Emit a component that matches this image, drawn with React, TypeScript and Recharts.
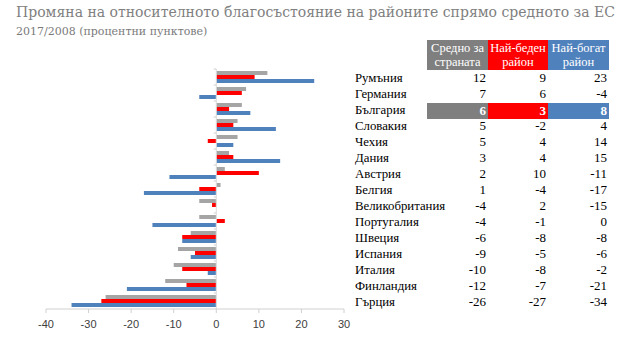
import React from "react";
import { BarChart, Bar, XAxis, YAxis, ReferenceLine } from "recharts";

const titleText = "Промяна на относителното благосъстояние на районите спрямо средното за ЕС";
const subtitleText = "2017/2008 (процентни пунктове)";

const tableCountries = ["Румъния", "Германия", "България", "Словакия", "Чехия", "Дания", "Австрия", "Белгия", "Великобритания", "Португалия", "Швеция", "Испания", "Италия", "Финландия", "Гърция"];
const countryAverage = [12, 7, 6, 5, 5, 3, 2, 1, -4, -4, -6, -9, -10, -12, -26];
const poorestRegion = [9, 6, 3, -2, 4, 4, 10, -4, 2, -1, -8, -5, -8, -7, -27];
const richestRegion = [23, -4, 8, 4, 14, 15, -11, -17, -15, 0, -8, -6, -2, -21, -34];

// order of the bar groups in the chart (top to bottom)
const barOrder = ["Румъния", "Германия", "България", "Чехия", "Словакия", "Дания", "Австрия", "Белгия", "Португалия", "Великобритания", "Швеция", "Испания", "Италия", "Финландия", "Гърция"];

const headerLabels = [["Средно за", "страната"], ["Най-беден", "район"], ["Най-богат", "район"]];
const highlightCountry = "България";
const xTicks = [-40, -30, -20, -10, 0, 10, 20, 30];

const GRAY_BAR = "#a5a5a5";
const GRAY_HEAD = "#7f7f7f";
const RED = "#ff0000";
const BLUE = "#4f81bd";

const chartData = barOrder.map((name) => {
  const i = tableCountries.indexOf(name);
  return { name, avg: countryAverage[i], poor: poorestRegion[i], rich: richestRegion[i] };
});

const titleFont = "'DejaVu Serif', serif";
const tableFont = "'Liberation Serif', serif";

const colLeft = [427, 488, 548];
const colWidth = [61, 60, 61];
const colColors = [GRAY_HEAD, RED, BLUE];
const rowTop = 69.5;
const rowH = 16;

export default function App() {
  const tableValues = [countryAverage, poorestRegion, richestRegion];
  return (
    <div style={{ position: "fixed", left: 0, top: 0, width: 630, height: 343, background: "#fff", overflow: "hidden" }}>
      <div style={{ position: "absolute", left: 16, top: 4, fontFamily: titleFont, fontSize: 14, color: "#808080", whiteSpace: "nowrap" }}>{titleText}</div>
      <div style={{ position: "absolute", left: 16, top: 25, fontFamily: titleFont, fontSize: 11, color: "#7a7a7a", whiteSpace: "nowrap" }}>{subtitleText}</div>

      <div style={{ position: "absolute", left: 0, top: 0 }}>
        <BarChart
          width={630}
          height={343}
          data={chartData}
          layout="vertical"
          margin={{ top: 69, right: 286, bottom: 4, left: 46 }}
          barCategoryGap={2}
          barGap={0}
        >
          <XAxis
            type="number"
            domain={[-40, 30]}
            ticks={xTicks}
            interval={0}
            height={30}
            stroke="#d0d0d0"
            tickSize={4}
            tickMargin={7}
            tick={{ fill: "#404040", fontSize: 11, fontFamily: "'Liberation Sans', Arial, sans-serif" }}
          />
          <YAxis type="category" dataKey="name" hide />
          <ReferenceLine x={0} stroke="#dcdcdc" strokeWidth={1} />
          {barOrder.map((n) => (
            <ReferenceLine
              key={n}
              position="start"
              segment={[{ x: -0.6, y: n }, { x: 0, y: n }]}
              stroke="#cfcfcf"
              strokeWidth={1}
            />
          ))}
          <Bar dataKey="avg" fill={GRAY_BAR} barSize={4} isAnimationActive={false} />
          <Bar dataKey="poor" fill={RED} barSize={4} isAnimationActive={false} />
          <Bar dataKey="rich" fill={BLUE} barSize={4} isAnimationActive={false} />
        </BarChart>
      </div>

      {/* table header */}
      {headerLabels.map((lines, c) => (
        <div
          key={c}
          style={{
            position: "absolute",
            left: colLeft[c],
            top: 40,
            width: colWidth[c],
            height: 30,
            background: colColors[c],
            color: "#fff",
            fontFamily: tableFont,
            fontSize: 12.5,
            lineHeight: "13.5px",
            textAlign: "center",
            paddingTop: 2,
            boxSizing: "border-box",
            whiteSpace: "nowrap",
          }}
        >
          <div>{lines[0]}</div>
          <div>{lines[1]}</div>
        </div>
      ))}

      {/* table rows */}
      {tableCountries.map((name, r) => {
        const hl = name === highlightCountry;
        return (
          <React.Fragment key={name}>
            <div style={{ position: "absolute", left: 355, top: rowTop + r * rowH, height: rowH, lineHeight: rowH + "px", fontFamily: tableFont, fontSize: 12.8, color: "#000", whiteSpace: "nowrap" }}>{name}</div>
            {tableValues.map((vals, c) => (
              <div
                key={c}
                style={{
                  position: "absolute",
                  left: colLeft[c],
                  top: rowTop + r * rowH + (hl ? 1 : 0),
                  width: colWidth[c],
                  height: rowH,
                  lineHeight: rowH + "px",
                  background: hl ? colColors[c] : "transparent",
                  color: hl ? "#fff" : "#000",
                  fontWeight: hl ? "bold" : "normal",
                  fontFamily: tableFont,
                  fontSize: 13,
                  textAlign: "right",
                  paddingRight: 2,
                  boxSizing: "border-box",
                }}
              >
                {vals[r]}
              </div>
            ))}
          </React.Fragment>
        );
      })}
    </div>
  );
}
